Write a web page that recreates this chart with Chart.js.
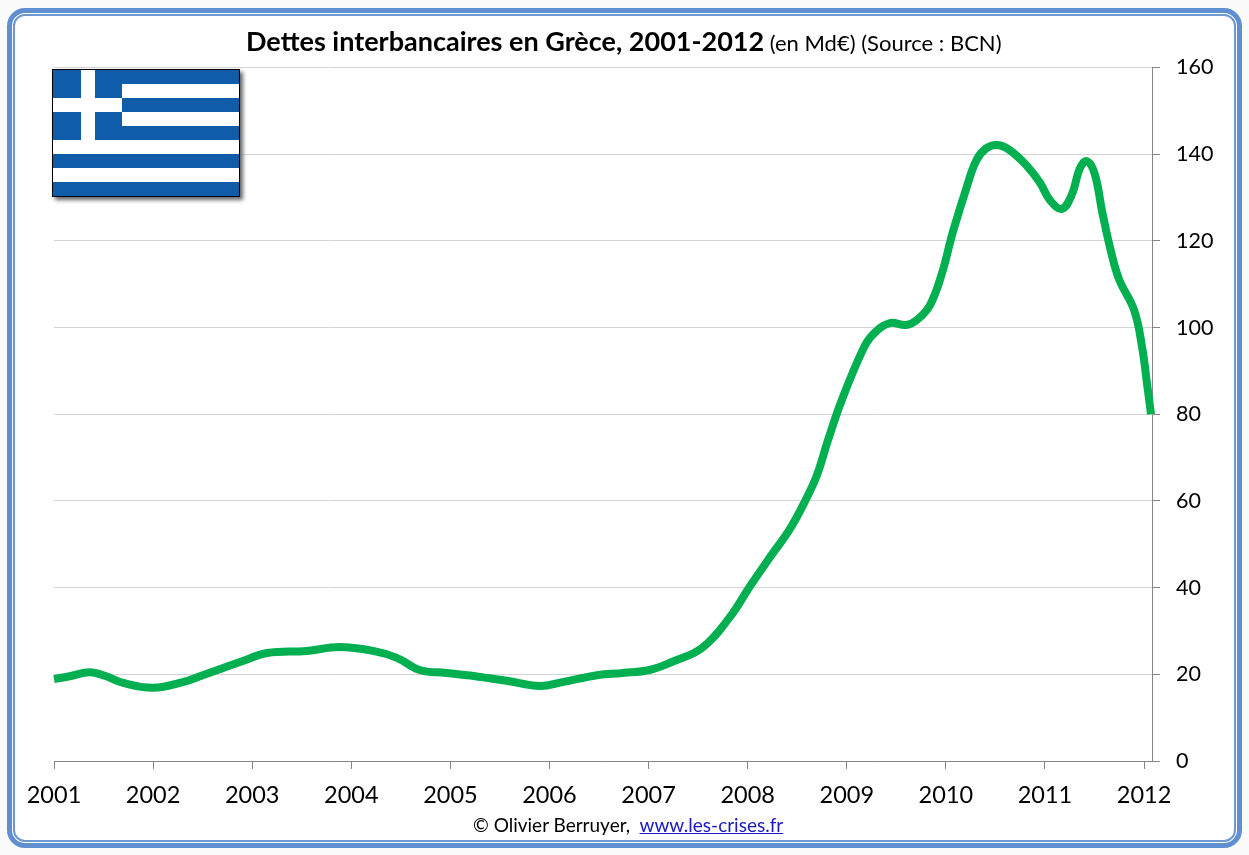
<!DOCTYPE html>
<html>
<head>
<meta charset="utf-8">
<script src="https://cdn.jsdelivr.net/npm/chart.js@4/dist/chart.umd.min.js"></script>
<style>
  html, body { margin: 0; padding: 0; background: #fbfbfb; }
  #page { position: relative; width: 1249px; height: 855px; overflow: hidden; font-family: Lato, sans-serif; color: #000; }
  #frameOuter { position: absolute; left: 7px; top: 8px; width: 1225px; height: 830px; border: 5px solid #5f8fd0; border-radius: 18px; background: #fff; }
  #frameInner { position: absolute; left: 13px; top: 14px; width: 1219px; height: 824px; border: 2px solid #6b97d3; border-radius: 12px; background: #fff; }
  canvas { position: absolute; left: 0; top: 0; }
  #title { position: absolute; left: 246px; top: 25px; white-space: nowrap; font-size: 22px; line-height: 32px; }
  #title b { font-size: 27px; }
  #credit { position: absolute; left: 473px; top: 813px; white-space: nowrap; font-size: 19px; line-height: 24px; }
  #credit a { color: #1a1ac0; text-decoration: underline; }
  #flag { position: absolute; left: 52px; top: 69px; width: 186px; height: 126px; border: 1px solid #000; box-shadow: 3px 3px 4px #666; display: block; }
</style>
</head>
<body>
<div id="page">
  <div id="frameOuter"></div>
  <div id="frameInner"></div>
  <canvas id="chart" width="1249" height="855"></canvas>
  <div id="title"><b>Dettes interbancaires en Grèce, 2001-2012</b> (en Md€) (Source : BCN)</div>
  <div id="credit">© Olivier Berruyer,&nbsp; <a href="#">www.les-crises.fr</a></div>
  <svg id="flag" viewBox="0 0 186 126" preserveAspectRatio="none">
    <rect width="186" height="126" fill="#0f5cab"/>
    <rect x="69" y="14" width="117" height="14" fill="#fff"/>
    <rect x="69" y="42" width="117" height="14" fill="#fff"/>
    <rect y="70" width="186" height="14" fill="#fff"/>
    <rect y="98" width="186" height="14" fill="#fff"/>
    <rect x="28" y="0" width="14" height="70" fill="#fff"/>
    <rect x="0" y="28" width="69" height="14" fill="#fff"/>
  </svg>
</div>
<script>
const years = [
  2001.0, 2001.17, 2001.36, 2001.52, 2001.7, 2002.0, 2002.3, 2002.5, 2002.7, 2002.92,
  2003.15, 2003.55, 2003.88, 2004.22, 2004.46, 2004.69, 2004.96,
  2005.3, 2005.57, 2005.9, 2006.13, 2006.48, 2006.74, 2007.01, 2007.24, 2007.54, 2007.82,
  2008.02, 2008.24, 2008.42, 2008.58, 2008.7, 2008.81, 2008.95,
  2009.16, 2009.26, 2009.43, 2009.6, 2009.71, 2009.84, 2009.96,
  2010.07, 2010.21, 2010.31, 2010.41, 2010.52, 2010.64, 2010.81, 2010.95,
  2011.05, 2011.17, 2011.27, 2011.35, 2011.42, 2011.5, 2011.58, 2011.67, 2011.75, 2011.9, 2011.98, 2012.03, 2012.07
];
const debts = [
  18.9, 19.6, 20.5, 19.6, 18, 16.9, 18.2, 19.8, 21.4, 23.2,
  24.9, 25.4, 26.3, 25.4, 23.8, 21, 20.3,
  19.4, 18.5, 17.3, 18.2, 19.8, 20.3, 21, 22.9, 26.1, 33.2,
  40.2, 47.5, 53.3, 60, 66, 74, 83.3,
  94.8, 98.3, 101, 100.6, 101.8, 105.2, 112.5,
  122, 132.4, 138.7, 141.4, 142.1, 141, 137.5, 133.4,
  129.4, 127.4, 130.6, 136.6, 138.4, 135.6, 126.4, 117.2, 111, 104, 95.5, 87, 80
];
const yTicks = [0, 20, 40, 60, 80, 100, 120, 140, 160];
const xStart = 2001;
const xEnd = 2012.08;

const axisColor = '#868686';

new Chart(document.getElementById('chart').getContext('2d'), {
  type: 'line',
  data: {
    datasets: [{
      data: years.map((y, i) => ({ x: y, y: debts[i] })),
      borderColor: '#00b050',
      borderWidth: 8,
      pointRadius: 0,
      tension: 0.4,
      clip: false
    }]
  },
  options: {
    responsive: false,
    animation: false,
    layout: { padding: { left: 54, top: 67.5, right: 0, bottom: 0 } },
    plugins: { legend: { display: false }, tooltip: { enabled: false }, title: { display: false } },
    scales: {
      x: {
        type: 'linear',
        min: xStart,
        max: xEnd,
        afterFit: (scale) => { scale.height = 94; },
        border: { color: axisColor, width: 1 },
        grid: { drawOnChartArea: false, tickColor: axisColor, tickLength: 8 },
        ticks: {
          stepSize: 1,
          includeBounds: false,
          autoSkip: false,
          maxRotation: 0,
          color: '#000',
          padding: 12,
          font: { family: 'Lato', size: 23.5 },
          callback: (v) => String(v)
        }
      },
      y: {
        position: 'right',
        min: 0,
        max: 160,
        afterFit: (scale) => { scale.width = 97; },
        afterBuildTicks: (scale) => { scale.ticks = yTicks.map(v => ({ value: v })); },
        border: { color: axisColor, width: 1 },
        grid: { color: '#d4d4d4', tickColor: axisColor, tickLength: 8 },
        ticks: {
          color: '#000',
          padding: 16,
          font: { family: 'Lato', size: 21.5 }
        }
      }
    }
  }
});
</script>
</body>
</html>
